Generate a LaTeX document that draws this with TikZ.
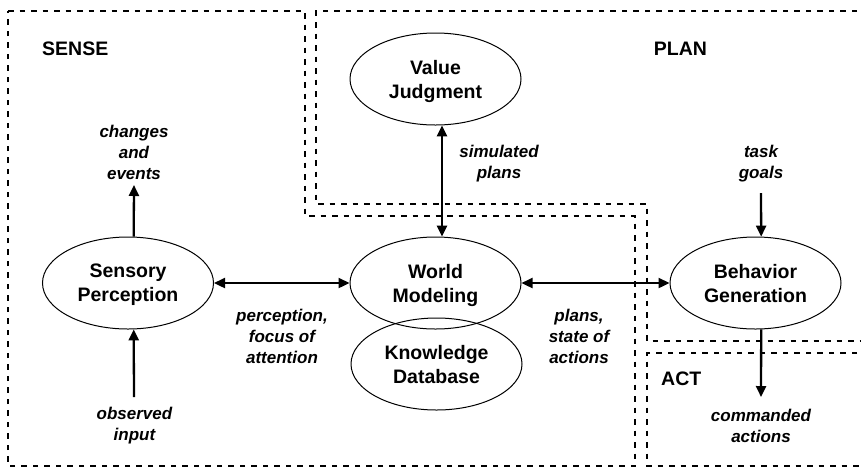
\documentclass[tikz,border=0pt]{standalone}
\usepackage{fontspec}
\setmainfont{Liberation Sans}
\usetikzlibrary{arrows.meta,shapes.geometric}

\tikzset{
  module/.style={ellipse, draw, line width=1pt, minimum width=171pt, minimum height=92pt,
    inner sep=0pt, align=center, text depth=-2pt, font=\bfseries\fontsize{19.5}{24}\selectfont},
  flowlabel/.style={inner sep=0pt, align=center, font=\bfseries\itshape\fontsize{17}{21}\selectfont},
  regionlabel/.style={inner sep=0pt, font=\bfseries\fontsize{19.5}{24}\selectfont},
  region/.style={dashed, dash pattern=on 5.5pt off 6pt, line width=1.1pt},
  flow/.style={line width=2.3pt, -{Triangle[length=11pt,width=10pt]}},
  twoway/.style={line width=2.3pt, {Triangle[length=11pt,width=10pt]}-{Triangle[length=11pt,width=10pt]}}
}

\begin{document}
\begin{tikzpicture}[x=1pt, y=-1pt]
  \useasboundingbox (0,0) rectangle (861,467);
  \begin{scope}
    \clip (0,0) rectangle (861,467);
    % functional regions
    \draw[region] (8,11) -- (305,11) -- (305,216) -- (635,216) -- (635,466) -- (8,466) -- cycle;
    \draw[region] (880,11) -- (316,11) -- (316,204) -- (647,204) -- (647,341) -- (880,341);
    \draw[region] (880,353) -- (647,353) -- (647,466) -- (880,466);
  \end{scope}

  \node[regionlabel, anchor=west] (sense) at (42,49) {SENSE};
  \node[regionlabel] (plan) at (680.5,49) {PLAN};
  \node[regionlabel, anchor=west] (act) at (661,379) {ACT};

  % modules
  \node[module] (vj) at (435.5,79) {Value\\Judgment};
  \node[module] (sp) at (128,283) {Sensory\\Perception};
  \node[module] (kd) at (436.5,364) {Knowledge\\Database};
  \node[module] (wm) at (435.5,283) {World\\Modeling};
  \node[module] (bg) at (755.5,283) {Behavior\\Generation};

  % flow labels
  \node[flowlabel] (ce) at (134,152) {changes\\and\\events};
  \node[flowlabel] (oi) at (134.5,426) {observed\\input};
  \node[flowlabel] (sim) at (499,164) {simulated\\plans};
  \node[flowlabel] (tg) at (761,164) {task\\goals};
  \node[flowlabel] (pfa) at (282,336) {perception,\\focus of\\attention};
  \node[flowlabel] (psa) at (579,336) {plans,\\state of\\actions};
  \node[flowlabel] (ca) at (761,426) {commanded\\actions};

  % free ends of the external flows
  \coordinate (ceEnd) at (134,185);
  \coordinate (oiStart) at (134,397);
  \coordinate (tgStart) at (761,193);
  \coordinate (caEnd) at (761,397);

  % connectors
  \draw[twoway] (sp.east) -- (wm.west);
  \draw[twoway] (wm.east) -- (bg.west);
  \draw[twoway] (vj.-82) -- (wm.82);
  \draw[flow] (sp.83) -- (ceEnd);
  \draw[flow] (oiStart) -- (sp.-83);
  \draw[flow] (tgStart) -- (bg.83);
  \draw[flow] (bg.-83) -- (caEnd);
\end{tikzpicture}
\end{document}
